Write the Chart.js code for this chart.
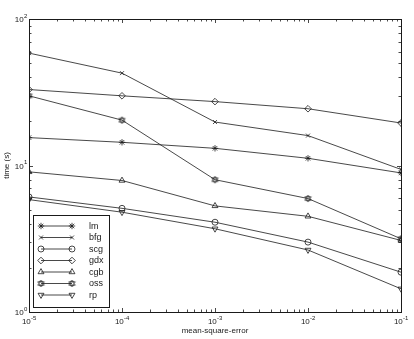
<!DOCTYPE html>
<html>
<head>
<meta charset="utf-8">
<script src="https://cdn.jsdelivr.net/npm/chart.js"></script>
<style>
  html, body { margin: 0; padding: 0; background: #fff; }
  #wrap { width: 414px; height: 339px; }
</style>
</head>
<body>
<div id="wrap"><canvas id="myChart"></canvas></div>
<script>
// training time vs. error goal, one line per algorithm
const msErr = [1e-5, 1e-4, 1e-3, 1e-2, 1e-1];
const names = ['lm', 'bfg', 'scg', 'gdx', 'cgb', 'oss', 'rp'];
const lm  = [15.5, 14.4, 13.1, 11.2, 8.9];
const bfg = [58.5, 42.7, 19.8, 16.0, 9.4];
const scg = [6.1, 5.1, 4.1, 3.0, 1.87];
const gdx = [33.0, 29.9, 27.3, 24.4, 19.5];
const cgb = [9.05, 7.9, 5.3, 4.5, 3.08];
const oss = [29.9, 20.4, 8.0, 5.95, 3.16];
const rp  = [5.85, 4.8, 3.7, 2.65, 1.44];
const xTicks = [1e-5, 1e-4, 1e-3, 1e-2, 1e-1];
const yTicks = [1, 10, 100];

const ctx = document.getElementById('myChart');
const ink = '#1a1a1a';
const fam = '"Liberation Sans", Arial, sans-serif';

// small hexagram marker for oss
function hexagram() {
  const c = document.createElement('canvas');
  c.width = 9; c.height = 9;
  const g = c.getContext('2d');
  g.strokeStyle = ink;
  g.lineWidth = 0.8;
  const tri = (rot) => {
    g.beginPath();
    for (let i = 0; i < 3; i++) {
      const a = rot + i * 2 * Math.PI / 3;
      const px = 4.5 + 3.5 * Math.sin(a), py = 4.5 - 3.5 * Math.cos(a);
      i ? g.lineTo(px, py) : g.moveTo(px, py);
    }
    g.closePath();
    g.stroke();
  };
  tri(0); tri(Math.PI);
  return c;
}

const styles = {
  lm:  { pointStyle: 'star', pointRadius: 3.2 },
  bfg: { pointStyle: 'crossRot', pointRadius: 2.8 },
  scg: { pointStyle: 'circle', pointRadius: 3 },
  gdx: { pointStyle: 'rectRot', pointRadius: 3.3 },
  cgb: { pointStyle: 'triangle', pointRadius: 3.4 },
  oss: { pointStyle: hexagram(), pointRadius: 3 },
  rp:  { pointStyle: 'triangle', pointRadius: 3.4, pointRotation: 180 }
};
const series = { lm, bfg, scg, gdx, cgb, oss, rp };

const datasets = names.map(n => ({
  label: n,
  data: msErr.map((x, i) => ({ x: x, y: series[n][i] })),
  showLine: true,
  borderColor: ink,
  borderWidth: 0.8,
  pointBorderColor: ink,
  pointBackgroundColor: 'rgba(0,0,0,0)',
  pointBorderWidth: 0.8,
  ...styles[n]
}));

// "10" plus a raised exponent
function powLabel(g, v, x, y, align) {
  const e = String(Math.round(Math.log10(v)));
  g.font = '8px ' + fam;
  const wb = g.measureText('10').width;
  g.font = '6px ' + fam;
  const we = g.measureText(e).width;
  let x0 = align === 'right' ? x - wb - we : x - (wb + we) / 2;
  g.textAlign = 'left';
  g.textBaseline = 'middle';
  g.font = '8px ' + fam;
  g.fillText('10', x0, y);
  g.font = '6px ' + fam;
  g.fillText(e, x0 + wb + 0.3, y - 4);
}

// box, inward log ticks, tick labels and the legend drawn over the plot
const frame = {
  id: 'frame',
  afterDatasetsDraw(chart) {
    const { ctx: g, chartArea: a, scales } = chart;
    const sx = scales.x, sy = scales.y;
    g.save();
    g.strokeStyle = ink;
    g.lineWidth = 1;
    g.strokeRect(a.left + 0.5, a.top + 0.5, a.right - a.left, a.bottom - a.top);

    g.lineWidth = 0.8;
    g.beginPath();
    for (let d = -5; d <= -1; d++) {
      for (let m = 1; m <= 9; m++) {
        const v = m * Math.pow(10, d);
        if (v > 0.1 + 1e-12) break;
        const px = Math.round(sx.getPixelForValue(v)) + 0.5;
        const len = m === 1 ? 4 : 2.5;
        g.moveTo(px, a.bottom); g.lineTo(px, a.bottom - len);
        g.moveTo(px, a.top); g.lineTo(px, a.top + len);
      }
    }
    for (let d = 0; d <= 2; d++) {
      for (let m = 1; m <= 9; m++) {
        const v = m * Math.pow(10, d);
        if (v > 100 + 1e-9) break;
        const py = Math.round(sy.getPixelForValue(v)) + 0.5;
        const len = m === 1 ? 4 : 2.5;
        g.moveTo(a.left, py); g.lineTo(a.left + len, py);
        g.moveTo(a.right, py); g.lineTo(a.right - len, py);
      }
    }
    g.stroke();

    g.fillStyle = ink;
    xTicks.forEach(v => powLabel(g, v, sx.getPixelForValue(v), a.bottom + 10, 'center'));
    yTicks.forEach(v => powLabel(g, v, a.left - 2, sy.getPixelForValue(v) + 1, 'right'));

    // legend
    const lx = 33.5, ly = 215.5, lw = 76, lh = 92;
    g.fillStyle = '#fff';
    g.fillRect(lx, ly, lw, lh);
    g.lineWidth = 1;
    g.strokeRect(lx, ly, lw, lh);
    g.textAlign = 'left';
    g.textBaseline = 'middle';
    chart.data.datasets.forEach((ds, i) => {
      const y = 226 + i * 11.5;
      g.strokeStyle = ink;
      g.lineWidth = 0.8;
      g.beginPath();
      g.moveTo(41, y); g.lineTo(72, y);
      g.stroke();
      [41, 72].forEach(px => {
        g.strokeStyle = ink;
        g.fillStyle = 'rgba(0,0,0,0)';
        g.lineWidth = 0.8;
        Chart.helpers.drawPoint(g, {
          pointStyle: ds.pointStyle, radius: ds.pointRadius, rotation: ds.pointRotation || 0,
          borderWidth: 0.8
        }, px, y);
      });
      g.fillStyle = ink;
      g.font = '9px ' + fam;
      g.fillText(ds.label, 89, y + 0.5);
    });
    g.restore();
  }
};

new Chart(ctx, {
  type: 'scatter',
  data: { datasets: datasets },
  plugins: [frame],
  options: {
    responsive: true,
    maintainAspectRatio: false,
    animation: false,
    layout: { padding: { top: 19, right: 13, left: 0, bottom: 0 } },
    plugins: { legend: { display: false }, tooltip: { enabled: false } },
    scales: {
      x: {
        type: 'logarithmic',
        min: 1e-5,
        max: 1e-1,
        afterFit(s) { s.height = 27; },
        afterBuildTicks(s) { s.ticks = xTicks.map(v => ({ value: v, major: true })); },
        grid: { display: false, drawTicks: false },
        border: { display: false },
        ticks: { display: false },
        title: {
          display: true, text: 'mean-square-error', color: ink,
          font: { size: 8, family: fam },
          padding: { top: 0, bottom: 3 }
        }
      },
      y: {
        type: 'logarithmic',
        min: 1,
        max: 100,
        afterFit(s) { s.width = 29; },
        afterBuildTicks(s) { s.ticks = yTicks.map(v => ({ value: v, major: true })); },
        grid: { display: false, drawTicks: false },
        border: { display: false },
        ticks: { display: false },
        title: {
          display: true, text: 'time (s)', color: ink,
          font: { size: 8, family: fam },
          padding: { top: 2, bottom: 0 }
        }
      }
    }
  }
});
</script>
</body>
</html>
